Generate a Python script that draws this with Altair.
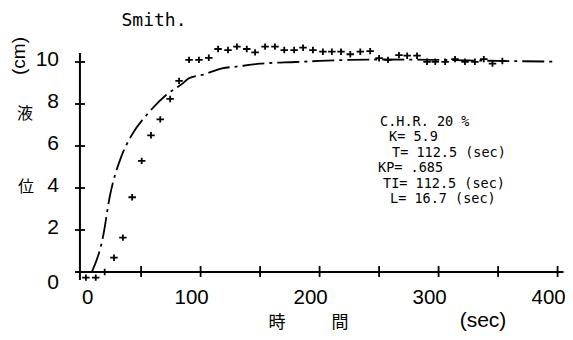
import altair as alt
import pandas as pd

# ---- data ----
times = [3.6, 11.9, 19.4, 27.2, 34.7, 42.5, 50.5, 58.3, 66.1, 74.4,
         81.9, 90.3, 98.6, 106.9, 114.7, 123.0, 130.5, 138.8, 145.8, 154.2,
         162.5, 170.3, 178.6, 186.1, 194.4, 202.8, 210.3, 218.0, 225.8, 234.2,
         242.5, 250.0, 257.5, 266.7, 273.6, 281.9, 290.3, 297.2, 305.5, 313.8,
         322.2, 330.5, 338.0, 345.3, 353.6]
levels = [-0.27, -0.27, 0.0, 0.68, 1.64, 3.56, 5.29, 6.51, 7.27, 8.24,
          9.10, 10.10, 10.10, 10.20, 10.62, 10.57, 10.73, 10.62, 10.46, 10.73,
          10.73, 10.57, 10.57, 10.68, 10.57, 10.49, 10.49, 10.49, 10.37, 10.49,
          10.52, 10.18, 10.10, 10.33, 10.30, 10.30, 10.01, 10.01, 10.01, 10.14,
          10.01, 10.01, 10.14, 9.92, 10.05]

model_t = [8.6, 18, 23.6, 33.3, 41.7, 57, 71, 85, 90, 103, 118, 130, 150,
           180, 200, 225, 250, 300, 350, 397]
model_y = [0.0, 1.68, 3.57, 5.49, 6.48, 7.63, 8.43, 8.98, 9.22, 9.41, 9.70,
           9.78, 9.92, 10.0, 10.05, 10.1, 10.12, 10.1, 10.05, 10.02]

y_ticks = [0, 2, 4, 6, 8, 10]
x_ticks = [50, 100, 150, 200, 250, 300, 350, 400]
x_labels = [0, 100, 200, 300, 400]

title_text = "Smith."
info_lines = ["C.H.R. 20 %", "K= 5.9", "T= 112.5 (sec)", "KP= .685",
              "TI= 112.5 (sec)", "L= 16.7 (sec)"]

# ---- layout (page must fit 573x340 including 8px margins) ----
W, H = 493, 252
X_DOM = [-10, 404.3]          # ~1.19 px per second
Y_DOM = [-1, 11]              # 21 px per unit
PL = 81.6 - 10 * W / (X_DOM[1] - X_DOM[0])   # page x of plot left edge
PT = 41.0                                     # page y of plot top edge
PAD = {"left": PL - 8, "top": PT - 8, "right": 557 - (PL - 8) - W, "bottom": 324 - (PT - 8) - H}

xs = alt.Scale(domain=X_DOM, nice=False, zero=False)
ys = alt.Scale(domain=Y_DOM, nice=False, zero=False)
FONT = "Liberation Sans Narrow, Liberation Sans, sans-serif"
MONO = "DejaVu Sans Mono"
CJK = "Noto Sans CJK JP"

pts = pd.DataFrame({"t": times, "y": levels})
mdl = pd.DataFrame({"t": model_t, "y": model_y})
one = pd.DataFrame({"d": [0]})

X = lambda f: alt.X(f, type="quantitative", scale=xs, axis=None)
Y = lambda f: alt.Y(f, type="quantitative", scale=ys, axis=None)
px = lambda page_x: alt.value(page_x - PL)
py = lambda page_y: alt.value(page_y - PT)

# axis lines
yaxis = alt.Chart(pd.DataFrame({"x": [-1.4], "y": [-0.38], "y2": [10.43]})).mark_rule(
    color="black", strokeWidth=2).encode(x=X("x"), y=Y("y"), y2="y2")
xaxis = alt.Chart(pd.DataFrame({"y": [0], "x": [-4], "x2": [405]})).mark_rule(
    color="black", strokeWidth=2).encode(y=Y("y"), x=X("x"), x2="x2")

yt = alt.Chart(pd.DataFrame({"v": y_ticks})).mark_rule(color="black", strokeWidth=1.8).encode(
    y=Y("v"), x=px(75), x2=px(85))
xt = alt.Chart(pd.DataFrame({"v": x_ticks})).mark_rule(color="black", strokeWidth=1.8).encode(
    x=X("v"), y=py(266), y2=py(277))

ylab_df = pd.DataFrame({"v": y_ticks, "lab": [str(v) for v in y_ticks]})
ylab = alt.Chart(ylab_df).transform_filter("datum.v > 0").mark_text(
    align="right", baseline="middle", font=FONT, fontSize=21, dy=-2).encode(
    y=Y("v"), x=px(59), text="lab:N")
ylab0 = alt.Chart(ylab_df).transform_filter("datum.v == 0").mark_text(
    align="right", baseline="middle", font=FONT, fontSize=21, dy=11).encode(
    y=Y("v"), x=px(59), text="lab:N")

xlab_df = pd.DataFrame({"v": x_labels, "lab": [str(v) for v in x_labels]})
xlab = alt.Chart(xlab_df).transform_filter("datum.v > 0").mark_text(
    align="center", baseline="middle", font=FONT, fontSize=20.5, dx=-9).encode(
    x=X("v"), y=py(298), text="lab:N")
xlab0 = alt.Chart(xlab_df).transform_filter("datum.v == 0").mark_text(
    align="center", baseline="middle", font=FONT, fontSize=20.5, dx=6).encode(
    x=X("v"), y=py(298), text="lab:N")

line = alt.Chart(mdl).mark_line(color="black", strokeWidth=1.8, interpolate="monotone",
                                strokeDash=[22, 5, 3, 5]).encode(x=X("t"), y=Y("y"))

plus = "M-1,0H1M0,-0.85V0.85"
points = alt.Chart(pts).mark_point(shape=plus, size=56, filled=False, color="black",
                                   strokeWidth=1.8, opacity=1).encode(x=X("t"), y=Y("y"))

def txt(s, x, y, font=FONT, size=20, angle=0, align="center"):
    return alt.Chart(one).mark_text(font=font, fontSize=size, angle=angle, align=align,
                                    baseline="middle", color="black").encode(
        x=px(x), y=py(y), text=alt.value(s))

texts = [
    txt(title_text, 154, 21, font=MONO, size=18),
    txt("(cm)", 19, 56, size=19, angle=270),
    txt("液", 25, 114, font=CJK, size=16),
    txt("位", 26, 187, font=CJK, size=16),
    txt("時", 277, 323, font=CJK, size=17),
    txt("間", 340, 323, font=CJK, size=17),
    txt("(sec)", 483, 321, size=21),
]
info_x = [380, 389, 392, 378, 383, 390]
for i, s in enumerate(info_lines):
    texts.append(txt(s, info_x[i], 122 + 15.4 * i, font=MONO, size=13.5, align="left"))

chart = alt.layer(yaxis, xaxis, yt, xt, ylab, ylab0, xlab, xlab0, line, points, *texts).properties(
    width=W, height=H,
    autosize=alt.AutoSizeParams(type="none"),
    padding=PAD,
    background="white",
).configure_view(stroke=None)

chart.save("out.html", embed_options={"renderer": "svg", "actions": False})
